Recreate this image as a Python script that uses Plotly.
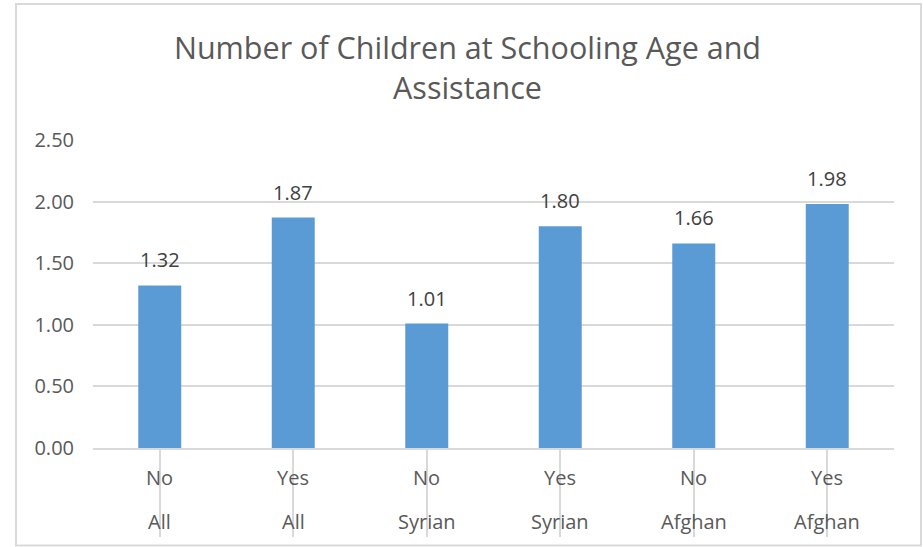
import plotly.graph_objects as go

groups = ["All", "All", "Syrian", "Syrian", "Afghan", "Afghan"]
assistance = ["No", "Yes", "No", "Yes", "No", "Yes"]
values = [1.32, 1.87, 1.01, 1.80, 1.66, 1.98]
value_labels = ["1.32", "1.87", "1.01", "1.80", "1.66", "1.98"]
y_ticks = [0, 0.5, 1.0, 1.5, 2.0, 2.5]
y_tick_labels = ["0.00", "0.50", "1.00", "1.50", "2.00", "2.50"]
title_text = "Number of Children at Schooling Age and<br>Assistance"

FONT = "Open Sans"
TXT = "#595959"
GRID = "#d9d9d9"

W, H = 923, 547
L, R, T, B = 93, 29, 140, 99
PW, PH = W - L - R, H - T - B

def px_x(p):
    return (p - L) / PW

def px_y(p):
    return (H - B - p) / PH

xs = list(range(len(values)))

fig = go.Figure()
fig.add_trace(go.Bar(
    x=xs, y=values, marker=dict(color="#5b9bd5", line=dict(width=0)),
    hoverinfo="skip",
))

annotations = []
for i, (v, lab) in enumerate(zip(values, value_labels)):
    annotations.append(dict(x=i, y=v, xref="x", yref="y", text=lab, showarrow=False,
                            yanchor="bottom", yshift=10,
                            font=dict(family=FONT, size=20, color="#404040")))
for i, (a, g) in enumerate(zip(assistance, groups)):
    annotations.append(dict(x=i, y=px_y(477), xref="x", yref="paper", text=a, showarrow=False,
                            yanchor="middle", font=dict(family=FONT, size=20, color=TXT)))
    annotations.append(dict(x=i, y=px_y(521), xref="x", yref="paper", text=g, showarrow=False,
                            yanchor="middle", font=dict(family=FONT, size=20, color=TXT)))

shapes = [dict(type="rect", xref="paper", yref="paper",
               x0=px_x(16), x1=px_x(921), y0=px_y(545.5), y1=px_y(4),
               line=dict(color=GRID, width=2), fillcolor="rgba(0,0,0,0)", layer="below")]

fig.update_layout(
    width=W, height=H,
    margin=dict(l=L, r=R, t=T, b=B),
    paper_bgcolor="white", plot_bgcolor="white",
    showlegend=False,
    bargap=0.678,
    title=dict(text=title_text, x=467.5 / W, xanchor="center", xref="container",
               y=1 - 59 / H, yanchor="top", yref="container",
               font=dict(family=FONT, size=30.5, color=TXT)),
    annotations=annotations,
    shapes=shapes,
    xaxis=dict(range=[-0.5, 5.5], tickmode="array", tickvals=xs, ticktext=[""] * 6,
               showticklabels=False, showgrid=False, zeroline=False,
               showline=True, linecolor=GRID, linewidth=1.5,
               ticks="outside", tickson="boundaries", ticklen=87,
               tickcolor=GRID, tickwidth=1.5, fixedrange=True),
    yaxis=dict(range=[0, 2.5], tickmode="array", tickvals=y_ticks, ticktext=y_tick_labels,
               showgrid=True, gridcolor=GRID, gridwidth=1.5, zeroline=False,
               showline=False, ticks="outside", ticklen=14, tickcolor="rgba(0,0,0,0)",
               tickfont=dict(family=FONT, size=20, color=TXT), fixedrange=True),
)

fig.write_html("out.html", config={"displayModeBar": False},
               post_script="document.body.style.margin='0';document.body.style.overflow='hidden';")
